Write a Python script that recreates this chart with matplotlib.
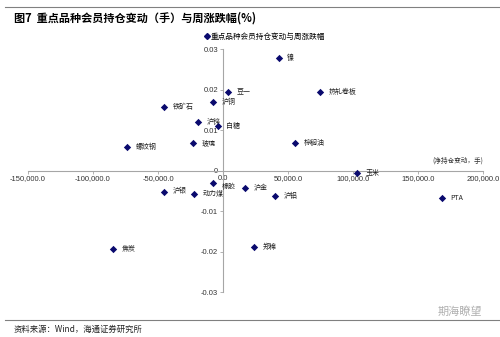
import matplotlib

matplotlib.use("Agg")
import matplotlib.pyplot as plt
from matplotlib.lines import Line2D
from matplotlib.ticker import FuncFormatter

plt.rcParams["font.family"] = ["Noto Sans CJK SC", "DejaVu Sans"]

# net position change (lots) vs weekly price change
names = ["镍", "热轧卷板", "棕榈油", "玉米", "PTA", "郑棉", "沪铝", "沪金", "橡胶",
         "动力煤", "沪银", "焦炭", "螺纹钢", "铁矿石", "玻璃", "沪锌", "白糖", "沪铜", "豆一"]
position_change = [43000, 74600, 55400, 103000, 168500, 23800, 40000, 16900, -7700,
                   -22300, -45400, -84600, -73800, -45400, -23100, -19200, -3800, -7700, 3800]
weekly_change = [0.0279, 0.0193, 0.0069, -0.0005, -0.0069, -0.0188, -0.0062, -0.0044, -0.0032,
                 -0.0057, -0.0052, -0.0193, 0.0059, 0.0158, 0.0067, 0.0119, 0.0111, 0.0170, 0.0195]
x_ticks = [-150000, -100000, -50000, 0, 50000, 100000, 150000, 200000]
y_ticks = [-0.03, -0.02, -0.01, 0, 0.01, 0.02, 0.03]

navy = "#0a0a6e"
axis_grey = "#a6a6a6"
label_font = ["Liberation Sans", "DejaVu Sans"]

fig = plt.figure(figsize=(5.0, 3.37), dpi=100)
ax = fig.add_axes([0.056, 0.1335, 0.91, 0.721])

ax.scatter(position_change, weekly_change, marker="D", s=14, color=navy, zorder=3,
           linewidths=0)
for name, x, y in zip(names, position_change, weekly_change):
    # 橡胶 sits right under the 0.0 tick label, nudge it down a little
    dy = -2.5 if name == "橡胶" else 0
    ax.annotate(name, (x, y), xytext=(6, dy), textcoords="offset points",
                fontsize=5, va="center", ha="left", color="#222222")

ax.set_xlim(-150000, 200000)
ax.set_ylim(-0.03, 0.03)
ax.set_xticks(x_ticks)
ax.set_yticks(y_ticks)
ax.xaxis.set_major_formatter(FuncFormatter(lambda v, p: f"{v:,.1f}"))
ax.yaxis.set_major_formatter(FuncFormatter(lambda v, p: "0" if v == 0 else f"{v:g}"))

for side in ("top", "right"):
    ax.spines[side].set_visible(False)
ax.spines["left"].set_position(("data", 0))
ax.spines["bottom"].set_position(("data", 0))
for side in ("left", "bottom"):
    ax.spines[side].set_color(axis_grey)
    ax.spines[side].set_linewidth(0.8)
ax.tick_params(axis="both", length=2, width=0.6, color=axis_grey, labelsize=5.5,
               labelcolor="#333333", pad=1.5)
ax.tick_params(axis="x", direction="out")
for lbl in ax.get_xticklabels() + ax.get_yticklabels():
    lbl.set_family(label_font)

ax.text(1.0, 0.54, "(净持仓变动，手)", transform=ax.transAxes, fontsize=4.8,
        ha="right", va="center", color="#333333")

handle = Line2D([], [], marker="D", linestyle="none", color=navy, markersize=3)
fig.legend([handle], ["重点品种会员持仓变动与周涨跌幅"], loc="center",
           bbox_to_anchor=(0.53, 0.89), frameon=False, fontsize=5.5,
           handlelength=0.6, handletextpad=0.2, borderpad=0)

# page furniture
fig.add_artist(Line2D([0.01, 1.0], [0.979, 0.979], color="#808080", linewidth=0.8))
fig.add_artist(Line2D([0.01, 1.0], [0.05, 0.05], color="#808080", linewidth=0.8))
fig.text(0.028, 0.946, "图7  重点品种会员持仓变动（手）与周涨跌幅(%)", fontsize=8,
         fontweight="bold", ha="left", va="center")
fig.text(0.028, 0.022, "资料来源：Wind，海通证券研究所", fontsize=6, ha="left",
         va="center", color="#222222")
fig.text(0.965, 0.075, "期海瞭望", fontsize=8, ha="right", va="center",
         color="#b0b0b0")

fig.savefig("out.png", dpi=100)
